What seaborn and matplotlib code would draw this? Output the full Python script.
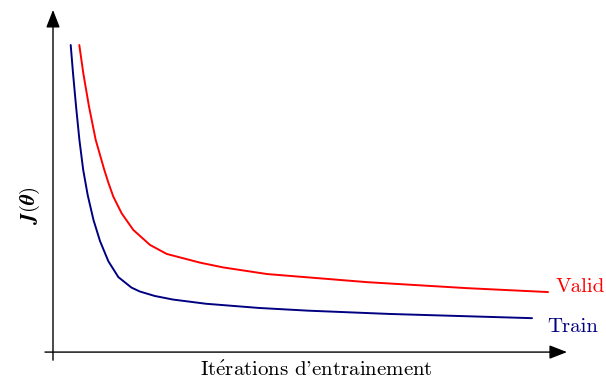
import numpy as np
import pandas as pd
import matplotlib
matplotlib.use("Agg")
import matplotlib.pyplot as plt
import seaborn as sns

# data (iterations, cost)
train_iter = [35.4, 40, 46.2, 52.8, 60.4, 69.4, 81, 94, 110.6, 130.6, 156.8, 173.4, 203.4, 240, 306, 412, 510, 674, 958]
train_cost = [10.23, 9.3, 8.17, 7.07, 6.07, 5.23, 4.4, 3.7, 3.03, 2.5, 2.15, 2.02, 1.87, 1.75, 1.61, 1.47, 1.38, 1.27, 1.13]
valid_iter = [52.6, 60.6, 72, 85.4, 102.6, 110.6, 120.6, 137.4, 160.6, 194, 227.4, 294, 340.6, 428, 628, 828, 990]
valid_cost = [10.23, 9.29, 8.18, 7.07, 6.07, 5.65, 5.18, 4.62, 4.07, 3.57, 3.27, 2.98, 2.82, 2.6, 2.33, 2.13, 2.0]
colors = {"Train": "#000080", "Valid": "#ff0000"}

df = pd.concat([
    pd.DataFrame({"iter": train_iter, "cost": train_cost, "set": "Train"}),
    pd.DataFrame({"iter": valid_iter, "cost": valid_cost, "set": "Valid"}),
])

sns.set_theme(style="white")
plt.rcParams["font.family"] = ["cmr10", "DejaVu Serif"]
plt.rcParams["mathtext.fontset"] = "cm"
plt.rcParams["axes.unicode_minus"] = False
plt.rcParams["text.color"] = "black"

fig = plt.figure(figsize=(6.06, 3.83), dpi=100)
ax = fig.add_axes([0, 0, 1, 1])
sns.lineplot(data=df, x="iter", y="cost", hue="set", palette=colors,
             sort=False, estimator=None, linewidth=1.4, ax=ax, legend=False)
for ln in ax.lines:
    ln.set_solid_joinstyle("round")

ax.set_xlim(-106, 1106)
ax.set_ylim(-1.03, 11.73)
ax.axis("off")

# axes with arrows
ax.annotate("", xy=(1028, 0), xytext=(-16, 0),
            arrowprops=dict(arrowstyle="-|>,head_length=0.9,head_width=0.35",
                            color="black", lw=1.0, shrinkA=0, shrinkB=0))
ax.annotate("", xy=(0, 11.4), xytext=(0, -0.27),
            arrowprops=dict(arrowstyle="-|>,head_length=0.9,head_width=0.35",
                            color="black", lw=1.0, shrinkA=0, shrinkB=0))

# end labels
ax.text(train_iter[-1] + 30, train_cost[-1] - 0.28, "Train", color=colors["Train"],
        fontsize=15, ha="left", va="center")
ax.text(valid_iter[-1] + 16, valid_cost[-1] + 0.17, "Valid", color=colors["Valid"],
        fontsize=15, ha="left", va="center")

ax.text(526, -0.62, r"It$\mathrm{\acute{e}}$rations d'entrainement", fontsize=15,
        ha="center", va="center")
ax.text(-46, 4.9, r"$\mathbfit{J}\mathbf{(}\mathbfit{\theta}\mathbf{)}$", fontsize=15,
        rotation=90, ha="center", va="center")

fig.savefig("out.png", dpi=100)
